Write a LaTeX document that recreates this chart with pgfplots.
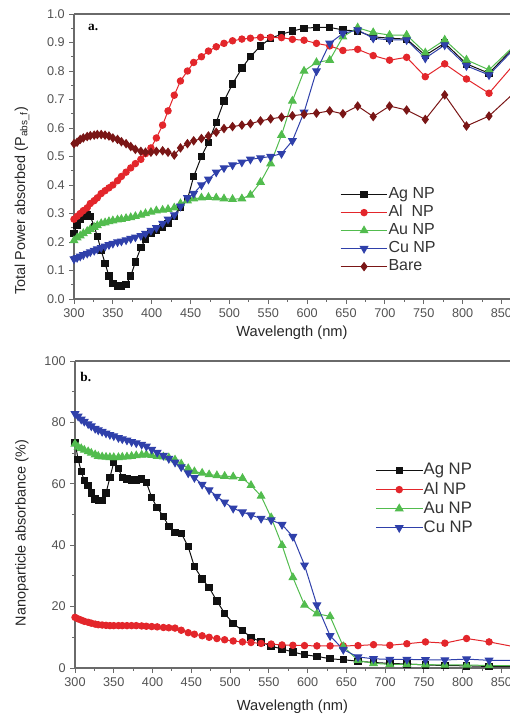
\documentclass[border=0pt]{standalone}
\usepackage{fontspec}
\setmainfont{Liberation Sans}
\newfontfamily\serifb{Liberation Serif}
\usepackage{pgfplots}
\pgfplotsset{compat=1.18}
\usepackage{pgfplotstable}

\definecolor{agc}{HTML}{111111}
\definecolor{alc}{HTML}{E3262B}
\definecolor{auc}{HTML}{52BC4E}
\definecolor{cuc}{HTML}{2F40AA}
\definecolor{barec}{HTML}{7A1616}
\definecolor{axc}{HTML}{6A6A6A}

% total power absorbed, panel a
\pgfplotstableread{
wl   ag    al    au    cu    bare
300  .23   .28   .205  .14   .545
304  .26   .29   .215  .145  .55
308  .28   .30   .222  .15   .56
312  .29   .31   .23   .155  .565
317  .295  .32   .238  .16   .57
321  .29   .335  .245  .165  .573
326  .255  .345  .252  .17   .575
330  .22   .355  .258  .175  .577
335  .17   .37   .265  .18   .577
340  .125  .38   .268  .185  .575
345  .08   .39   .272  .19   .572
350  .055  .40   .275  .195  .565
356  .045  .415  .278  .20   .56
361  .045  .43   .28   .203  .552
367  .05   .445  .283  .207  .545
373  .08   .46   .286  .212  .535
379  .13   .475  .29   .217  .525
386  .18   .49   .295  .222  .518
392  .21   .51   .30   .23   .515
399  .23   .53   .305  .24   .515
406  .24   .565  .31   .25   .518
414  .25   .61   .312  .265  .52
421  .265  .66   .315  .28   .515
429  .29   .715  .32   .295  .505
437  .32   .765  .335  .325  .53
446  .35   .80   .345  .355  .545
454  .43   .83   .352  .37   .555
464  .50   .85   .355  .40   .563
473  .55   .87   .357  .42   .572
483  .62   .885  .355  .445  .585
493  .695  .897  .352  .46   .598
504  .755  .906  .35   .47   .605
516  .81   .912  .352  .48   .61
527  .85   .915  .365  .49   .615
540  .888  .918  .41   .495  .625
553  .915  .918  .475  .50   .632
567  .929  .917  .575  .51   .638
581  .94   .911  .695  .555  .643
596  .95   .908  .80   .655  .648
612  .953  .897  .83   .80   .652
629  .953  .888  .838  .897  .66
646  .944  .872  .92   .932  .65
665  .94   .876  .952  .944  .677
685  .92   .854  .935  .915  .64
706  .915  .838  .926  .909  .677
728  .912  .848  .926  .909  .663
752  .855  .78   .864  .845  .63
777  .898  .825  .909  .891  .716
805  .825  .772  .839  .818  .607
834  .792  .722  .804  .786  .642
865  .88   .82   .885  .874  .72
}\powertab

% nanoparticle absorbance, panel b
\pgfplotstableread{
wl   ag    al    au    cu
300  73.5  16.5  73    82.8
304  68    16    72    82
308  64    15.6  71.5  81
312  61    15.2  71    80.3
317  59.5  14.9  70.5  79.5
321  57    14.6  70    78.8
326  55    14.3  69.5  78
330  54.5  14.1  69    77.5
335  54.5  14    68.8  77
340  57    13.9  68.7  76.5
345  62    13.8  68.6  76
350  67    13.8  68.6  75.6
356  65    13.8  68.6  75
361  62    13.8  68.7  74.6
367  61.5  13.8  68.8  74.2
373  61.3  13.8  69    73.7
379  61.2  13.8  69.2  73.3
386  61.5  13.7  69.4  72.8
392  60.5  13.6  69.5  72.2
399  55.5  13.5  69.3  71.2
406  52.2  13.4  69    70.2
414  49.4  13.2  68.8  69.2
421  46    13.1  68.5  68.2
429  44.2  13    67.8  67
437  43.9  12.3  66.5  65.5
446  39.5  11.5  65    63.5
454  33    11    64    62
464  29    10.5  63.5  59.8
473  26.2  10    63    58
483  21.8  9.6   62.7  55.9
493  17.8  9.2   62.5  54
504  14.5  8.8   62.3  52
516  12.2  8.5   61.8  50.8
527  10    8.3   59.5  49.8
540  8.5   8     56    48.7
553  7.1   7.8   49    48.2
567  6.2   7.5   40    46.7
581  5.2   7.4   29.5  42.8
596  4.3   7.3   20.5  33.5
612  3.8   7.2   17.7  20.5
629  3     7.2   16.8  10.5
646  2.7   7.2   7     6
665  2.2   7.3   2.5   3.6
685  1.8   7.6   1.5   3
706  1.5   7.4   1.2   2.8
728  1.3   7.9   1.2   2.8
752  1     8.5   1.1   2.7
777  0.8   8.1   1     2.6
805  0.7   9.6   1     2.9
834  0.5   8.5   0.8   2.5
865  0.4   7     0.8   2.5
}\abstab

\pgfplotsset{
  panel/.style={
    scale only axis,
    axis lines*=left,
    axis line style={draw=axc, line width=0.9pt},
    tick align=outside,
    major tick length=3.5pt, minor tick length=2pt,
    every tick/.style={axc, line width=0.7pt},
    xmin=300, xmax=861,
    xtick={300,350,...,850},
    minor x tick num=1, minor y tick num=1,
    tick label style={font=\fontsize{9.5}{11}\selectfont, text=black!68},
    /pgf/number format/assume math mode=true,
    x label style={font=\fontsize{11}{13}\selectfont, text=black!85},
    y label style={font=\fontsize{10.8}{13}\selectfont, text=black!85},
    xlabel={Wavelength (nm)},
    legend cell align=left,
    every axis plot/.append style={line width=0.75pt},
    legend image code/.code={\draw[mark repeat=2,mark phase=2]
      plot coordinates {(0pt,0pt)(17.5pt,0pt)(35pt,0pt)};},
  },
  ag/.style={agc, mark=square*, mark size=2.4pt, mark options={fill=agc}},
  al/.style={alc, mark=*, mark size=2.4pt, mark options={fill=alc}},
  au/.style={auc, mark=triangle*, mark size=3.2pt, mark options={fill=auc}},
  cu/.style={cuc, mark=triangle*, mark size=3.2pt, mark options={fill=cuc, rotate=180}},
  bare/.style={barec, mark=diamond*, mark size=3pt, mark options={fill=barec}},
}

\begin{document}
\begin{tikzpicture}
\begin{axis}[panel, name=top,
  at={(55.5pt,312pt)}, anchor=south west, width=327pt, height=213.75pt,
  ymin=0, ymax=1, ytick={0,0.1,0.2,0.3,0.4,0.5,0.6,0.7,0.8,0.9,1},
  yticklabel style={/pgf/number format/.cd, fixed, fixed zerofill, precision=1},
  ylabel={Total Power absorbed (P\textsubscript{abs\_f})},
  x label style={at={(axis description cs:0.5,-0.119)}, anchor=center},
  y label style={at={(axis description cs:-0.119,0.345)}, anchor=center},
  legend style={draw=none, fill=none, at={(axis description cs:0.61,0.24)},
    anchor=west, inner sep=0pt, row sep=1pt,
    font=\fontsize{12}{14}\selectfont, text=black!80,
    nodes={inner sep=0.5pt, text height=9pt, text depth=2.5pt}},
  ]
\addplot[ag] table[x=wl, y=ag] {\powertab};
\addplot[al] table[x=wl, y=al] {\powertab};
\addplot[au] table[x=wl, y=au] {\powertab};
\addplot[cu] table[x=wl, y=cu] {\powertab};
\addplot[bare] table[x=wl, y=bare] {\powertab};
\legend{Ag NP, Al\ \ NP, Au NP, Cu NP, Bare}
\node[font=\serifb\bfseries\fontsize{10}{12}\selectfont] at (axis description cs:0.044,0.954) {a.};
\end{axis}
\draw[axc, line width=0.9pt] (top.north west) -- (top.north east);

\begin{axis}[panel, name=bot,
  at={(56.25pt,35.25pt)}, anchor=south west, width=326.25pt, height=230.25pt,
  ymin=0, ymax=100, ytick={0,20,40,60,80,100},
  ylabel={Nanoparticle absorbance (\%)},
  x label style={at={(axis description cs:0.5,-0.127)}, anchor=center},
  y label style={at={(axis description cs:-0.122,0.44)}, anchor=center},
  legend style={draw=none, fill=none, at={(axis description cs:0.69,0.55)},
    anchor=west, inner sep=0pt, row sep=1.3pt,
    font=\fontsize{12.5}{14}\selectfont, text=black!80,
    nodes={inner sep=0.5pt, text height=9.3pt, text depth=2.7pt}},
  ]
\addplot[ag] table[x=wl, y=ag] {\abstab};
\addplot[al] table[x=wl, y=al] {\abstab};
\addplot[au] table[x=wl, y=au] {\abstab};
\addplot[cu] table[x=wl, y=cu] {\abstab};
\legend{Ag NP, Al NP, Au NP, Cu NP}
\node[font=\serifb\bfseries\fontsize{10}{12}\selectfont] at (axis description cs:0.025,0.948) {b.};
\end{axis}
\draw[axc, line width=0.9pt] (bot.north west) -- (bot.north east);

\pgfresetboundingbox
\path[use as bounding box] (0pt,0pt) rectangle (382.5pt,536.25pt);
\end{tikzpicture}
\end{document}
